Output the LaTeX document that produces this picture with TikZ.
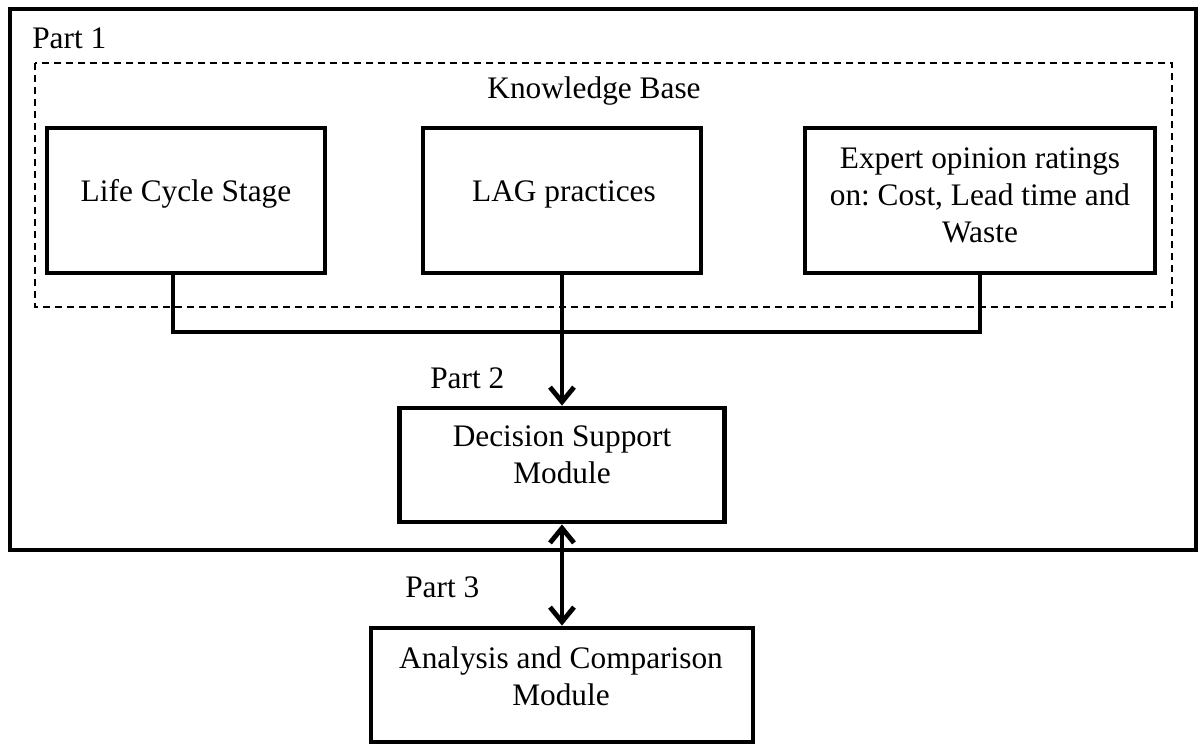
\documentclass[tikz,border=0pt]{standalone}
\usepackage{fontspec}
\setmainfont{Liberation Serif}
\usetikzlibrary{arrows.meta}
\frenchspacing
\begin{document}
\begin{tikzpicture}[x=0.75pt,y=-0.75pt,
  thickline/.style={line width=3.6pt},
  box/.style={draw, line width=3.6pt, rectangle, inner sep=0pt},
  txt/.style={font=\fontsize{23.5}{27.75}\selectfont, anchor=base, inner sep=0pt, align=center},
  arr/.style={-{Straight Barb[length=11pt,width=18pt]}, line width=3.6pt},
  darr/.style={{Straight Barb[length=11pt,width=18pt]}-{Straight Barb[length=11pt,width=18pt]}, line width=3.6pt},
  dashedbox/.style={draw, line width=1.1pt, dash pattern=on 5.25pt off 3.75pt}]
\useasboundingbox (0,0) rectangle (1198,744);
% containers
\draw[thickline] (10,9) rectangle (1196,550);
\draw[dashedbox] (35,63) rectangle (1172,307);
% boxes
\node[box, minimum width=208.5pt, minimum height=108.75pt] (lcs) at (186,200.5) {};
\node[box, minimum width=208.5pt, minimum height=108.75pt] (lag) at (562,200.5) {};
\node[box, minimum width=262.5pt, minimum height=108.75pt] (exp) at (980,200.5) {};
\node[box, minimum width=243.75pt, minimum height=85.5pt] (dsm) at (562,465) {};
\node[box, minimum width=286.5pt, minimum height=85.5pt] (acm) at (562,685) {};
% texts
\node[txt, anchor=base west] (p1) at (32,48) {Part 1};
\node[txt] (kb) at (594,98) {Knowledge Base};
\node[txt] (lcst) at (186,201) {Life Cycle Stage};
\node[txt] (lagt) at (564,201) {LAG practices};
\node[txt] (expt) at (980,242) {Expert opinion ratings\\on: Cost, Lead time and\\Waste};
\node[txt, anchor=base west] (p2) at (430,388) {Part 2};
\node[txt] (dsmt) at (562,483) {Decision Support\\Module};
\node[txt, anchor=base west] (p3) at (405,597) {Part 3};
\node[txt] (acmt) at (561,705) {Analysis and Comparison\\Module};
% connectors
\coordinate (lcsdrop) at (173,332);
\coordinate (bus) at (562,332);
\draw[thickline] (lcsdrop |- lcs.south) -- (lcsdrop) -- (bus) -| (exp.south);
\draw[arr] (lag.south) -- (dsm.north);
\draw[darr] (dsm.south) -- (acm.north);
\end{tikzpicture}
\end{document}
